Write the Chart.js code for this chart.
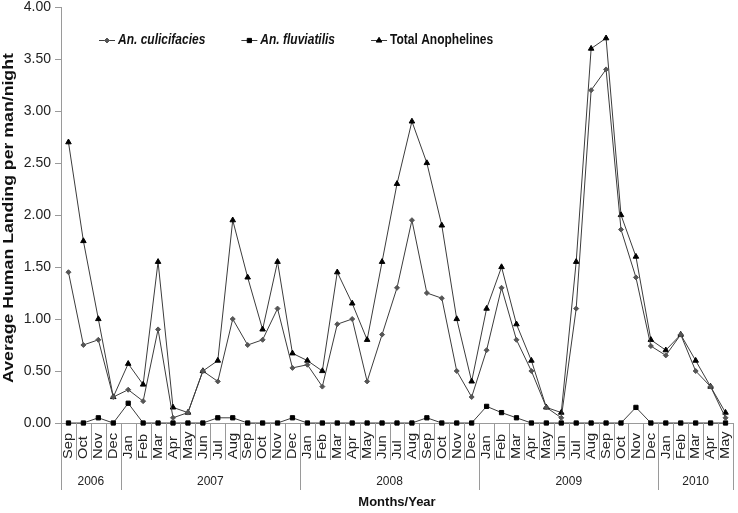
<!DOCTYPE html>
<html lang="en">
<head>
<meta charset="UTF-8">
<title>Average Human Landing</title>
<style>
  body { margin: 0; background: #fff; }
  #wrap { width: 738px; height: 513px; }
</style>
</head>
<body>
<div id="wrap"><canvas id="landingChart" width="738" height="513"></canvas></div>

<script src="https://cdn.jsdelivr.net/npm/chart.js@4"></script>
<script>
// months Sep 2006 - May 2010
const months = [
    'Sep', 'Oct', 'Nov', 'Dec',
    'Jan', 'Feb', 'Mar', 'Apr', 'May', 'Jun', 'Jul', 'Aug', 'Sep', 'Oct', 'Nov', 'Dec',
    'Jan', 'Feb', 'Mar', 'Apr', 'May', 'Jun', 'Jul', 'Aug', 'Sep', 'Oct', 'Nov', 'Dec',
    'Jan', 'Feb', 'Mar', 'Apr', 'May', 'Jun', 'Jul', 'Aug', 'Sep', 'Oct', 'Nov', 'Dec',
    'Jan', 'Feb', 'Mar', 'Apr', 'May'
];
const years = ['2006', '2007', '2008', '2009', '2010'];
const monthsPerYear = [4, 12, 12, 12, 5];

const culicifacies = [
    1.45, 0.75, 0.80, 0.25,
    0.32, 0.21, 0.90, 0.05, 0.10, 0.50, 0.40, 1.00, 0.75, 0.80, 1.10, 0.53,
    0.56, 0.35, 0.95, 1.00, 0.40, 0.85, 1.30, 1.95, 1.25, 1.20, 0.50, 0.25,
    0.70, 1.30, 0.80, 0.50, 0.15, 0.05, 1.10, 3.20, 3.40, 1.86, 1.40, 0.74,
    0.65, 0.85, 0.50, 0.35, 0.05
];
const fluviatilis = [
    0, 0, 0.05, 0,
    0.19, 0, 0, 0, 0, 0, 0.05, 0.05, 0, 0, 0, 0.05,
    0, 0, 0, 0, 0, 0, 0, 0, 0.05, 0, 0, 0,
    0.16, 0.10, 0.05, 0, 0, 0, 0, 0, 0, 0, 0.15, 0,
    0, 0, 0, 0, 0
];
const totalAnophelines = [
    2.70, 1.75, 1.00, 0.25,
    0.57, 0.37, 1.55, 0.15, 0.10, 0.50, 0.60, 1.95, 1.40, 0.90, 1.55, 0.67,
    0.60, 0.50, 1.45, 1.15, 0.80, 1.55, 2.30, 2.90, 2.50, 1.90, 1.00, 0.40,
    1.10, 1.50, 0.95, 0.60, 0.15, 0.10, 1.55, 3.60, 3.70, 2.00, 1.60, 0.80,
    0.70, 0.85, 0.60, 0.35, 0.10
];
const yTicks = [0, 0.5, 1, 1.5, 2, 2.5, 3, 3.5, 4];
const yTitle = 'Average Human Landing per man/night';

const fontFamily = '"Liberation Sans", Arial, sans-serif';
const axisGrey = '#9a9a9a';
const lineGrey = '#3c3c3c';

// the original figure is a bit stretched, so text is drawn with a scale
function stretchedText(c, text, x, y, rot, sx, sy) {
    c.save();
    c.translate(x, y);
    c.rotate(rot);
    c.scale(sx, sy);
    c.fillText(text, 0, 0);
    c.restore();
}

// month labels, separators, years and y title
const monthAxisPlugin = {
    id: 'monthAxis',
    afterDraw(chart) {
        const c = chart.ctx;
        const xs = chart.scales.x;
        const area = chart.chartArea;
        const axisY = area.bottom;
        const band = (xs.right - xs.left) / months.length;

        c.save();
        c.strokeStyle = axisGrey;
        c.lineWidth = 1;

        const yearEdges = [0];
        monthsPerYear.forEach(n => yearEdges.push(yearEdges[yearEdges.length - 1] + n));

        for (let i = 0; i <= months.length; i++) {
            const px = Math.round(xs.left + i * band) + 0.5;
            const bottom = yearEdges.includes(i) ? 490 : 460;
            c.beginPath();
            c.moveTo(px, axisY);
            c.lineTo(px, bottom);
            c.stroke();
        }

        c.fillStyle = '#222';
        c.font = '12px ' + fontFamily;
        c.textAlign = 'left';
        c.textBaseline = 'middle';
        months.forEach((m, i) => {
            stretchedText(c, m, xs.getPixelForValue(i) + 0.5, 459, -Math.PI / 2, 1.22, 1);
        });

        c.font = '12px ' + fontFamily;
        c.textAlign = 'center';
        years.forEach((yr, k) => {
            const mid = xs.left + (yearEdges[k] + yearEdges[k + 1]) / 2 * band;
            stretchedText(c, yr, mid, 481, 0, 1, 1.1);
        });

        c.fillStyle = '#111';
        c.font = 'bold 15px ' + fontFamily;
        stretchedText(c, yTitle, 9, (area.top + area.bottom) / 2 + 3, -Math.PI / 2, 1.18, 1);
        c.restore();
    }
};

// legend across the top of the plot
const topLegendPlugin = {
    id: 'topLegend',
    afterDraw(chart) {
        const c = chart.ctx;
        let x = 99;
        const y = 40;
        c.save();
        chart.data.datasets.forEach(ds => {
            c.strokeStyle = lineGrey;
            c.lineWidth = 1;
            c.beginPath();
            c.moveTo(x, y + 0.5);
            c.lineTo(x + 16, y + 0.5);
            c.stroke();
            c.fillStyle = ds.pointBackgroundColor;
            c.strokeStyle = ds.pointBorderColor;
            Chart.helpers.drawPoint(c, {
                pointStyle: ds.pointStyle, radius: ds.pointRadius, rotation: 0, borderWidth: 1
            }, x + 8, y + 0.5);

            c.fillStyle = '#111';
            c.font = (ds.legendItalic ? 'italic ' : '') + 'bold 12px ' + fontFamily;
            c.textAlign = 'left';
            c.textBaseline = 'middle';
            stretchedText(c, ds.label, x + 19, y, 0, 1, 1.17);
            x += 19 + c.measureText(ds.label).width + 36;
        });
        c.restore();
    }
};

const ctx = document.getElementById('landingChart').getContext('2d');
const landingChart = new Chart(ctx, {
    type: 'line',
    data: {
        labels: months,
        datasets: [{
            label: 'An. culicifacies',
            legendItalic: true,
            data: culicifacies,
            borderColor: lineGrey,
            borderWidth: 1,
            pointStyle: 'rectRot',
            pointRadius: 2.5,
            pointBackgroundColor: '#555',
            pointBorderColor: '#555',
            pointBorderWidth: 1,
            tension: 0,
            clip: false
        }, {
            label: 'An. fluviatilis',
            legendItalic: true,
            data: fluviatilis,
            borderColor: lineGrey,
            borderWidth: 1,
            pointStyle: 'rect',
            pointRadius: 3,
            pointBackgroundColor: '#000',
            pointBorderColor: '#000',
            pointBorderWidth: 1,
            tension: 0,
            clip: false
        }, {
            label: 'Total Anophelines',
            data: totalAnophelines,
            borderColor: lineGrey,
            borderWidth: 1,
            pointStyle: 'triangle',
            pointRadius: 3.2,
            pointBackgroundColor: '#000',
            pointBorderColor: '#000',
            pointBorderWidth: 1,
            tension: 0,
            clip: false
        }]
    },
    options: {
        responsive: false,
        animation: false,
        layout: { padding: { top: 7, right: 0, left: 0, bottom: 0 } },
        plugins: {
            legend: { display: false },
            tooltip: { enabled: false }
        },
        scales: {
            x: {
                offset: true,
                grid: { display: false },
                border: { display: true, color: axisGrey, width: 1 },
                ticks: { display: false },
                title: {
                    display: true,
                    text: 'Months/Year',
                    color: '#111',
                    font: { family: fontFamily, size: 13, weight: 'bold' },
                    padding: { top: 0, bottom: 3 }
                },
                afterFit(scale) {
                    scale.height = 90;
                    scale.paddingLeft = 0;
                    scale.paddingRight = 0;
                }
            },
            y: {
                min: 0,
                max: 4,
                afterBuildTicks(axis) {
                    axis.ticks = yTicks.map(v => ({ value: v }));
                },
                grid: {
                    drawOnChartArea: false,
                    drawTicks: true,
                    tickLength: 6,
                    color: axisGrey
                },
                border: { display: true, color: axisGrey, width: 1 },
                ticks: {
                    color: '#222',
                    padding: 4,
                    font: { family: fontFamily, size: 14, lineHeight: 1 },
                    callback: v => Number(v).toFixed(2)
                },
                afterFit(scale) {
                    scale.width = 61;
                    scale.paddingTop = 0;
                    scale.paddingBottom = 0;
                }
            }
        }
    },
    plugins: [monthAxisPlugin, topLegendPlugin]
});
</script>
</body>
</html>
